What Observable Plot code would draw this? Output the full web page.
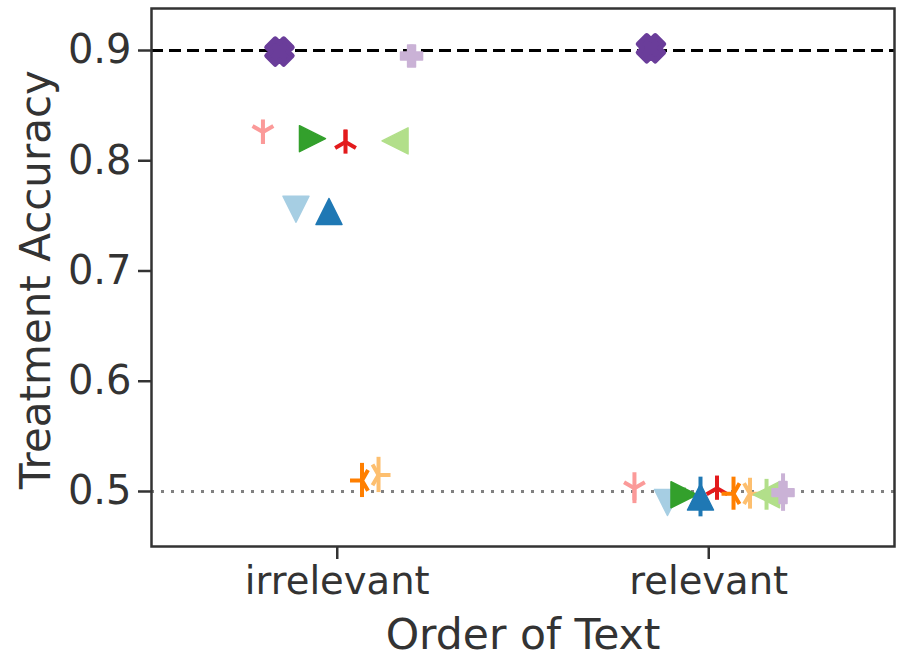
<!DOCTYPE html>
<html>
<head>
<meta charset="utf-8">
<script src="https://cdn.jsdelivr.net/npm/d3@7"></script>
<script src="https://cdn.jsdelivr.net/npm/@observablehq/plot@0.6"></script>
<style>
  html, body { margin: 0; padding: 0; background: #fff; }
  #chart svg { display: block; }
</style>
</head>
<body>
<div id="chart"></div>
<script>
// ---- data ----
const categories = ["irrelevant", "relevant"];
const seriesNames = ["Model 1","Model 2","Model 3","Model 4","Model 5","Model 6","Model 7","Model 8","Model 9","Model 10"];
const seriesColors = ["#fb9a99","#6a3d9a","#a6cee3","#33a02c","#1f78b4","#e31a1c","#ff7f00","#fdbf6f","#b2df8a","#cab2d6"];
const seriesMarkers = ["tri_down","X","v","gt","^","tri_up","tri_left","tri_right","lt","P"];
const irrelevantAcc = [0.826, 0.899, 0.756, 0.820, 0.754, 0.817, 0.510, 0.515, 0.818, 0.895];
const relevantAcc   = [0.503, 0.902, 0.490, 0.497, 0.495, 0.503, 0.498, 0.498, 0.497, 0.499];
const irrelevantErr = [0.011, 0.002, 0.002, 0.004, 0.004, 0.011, 0.0155, 0.016, 0.004, 0.010];
const relevantErr   = [0.014, 0.003, 0.003, 0.006, 0.018, 0.011, 0.015, 0.014, 0.014, 0.017];
const yTicks = [0.5, 0.6, 0.7, 0.8, 0.9];
const upperRef = 0.9;
const lowerRef = 0.5;
const dodgeWidth = 0.4;

// ---- symbols ----
function tri(dirs) {
  return { draw(ctx, size) {
    const h = Math.sqrt(size / Math.PI);
    for (const [dx, dy] of dirs) { ctx.moveTo(0, 0); ctx.lineTo(dx * h, dy * h); }
  }};
}
function poly(pts) {
  return { draw(ctx, size) {
    const h = Math.sqrt(size / Math.PI);
    pts.forEach(([px, py], i) => i ? ctx.lineTo(px * h, py * h) : ctx.moveTo(px * h, py * h));
    ctx.closePath();
  }};
}
const w = 0.36;
const plusPts = [[-w,-1],[w,-1],[w,-w],[1,-w],[1,w],[w,w],[w,1],[-w,1],[-w,w],[-1,w],[-1,-w],[-w,-w]];
const xw = 0.5;
const xPts = [[-xw,-1],[xw,-1],[xw,-xw],[1,-xw],[1,xw],[xw,xw],[xw,1],[-xw,1],[-xw,xw],[-1,xw],[-1,-xw],[-xw,-xw]];
const rot = (pts, a) => pts.map(([x, y]) => [x * Math.cos(a) - y * Math.sin(a), x * Math.sin(a) + y * Math.cos(a)]);
const symbolDefs = {
  "tri_down": {sym: tri([[0,1],[-0.866,-0.5],[0.866,-0.5]]), filled: false},
  "tri_up": {sym: tri([[0,-1],[-0.866,0.5],[0.866,0.5]]), filled: false},
  "tri_left": {sym: tri([[-1,0],[0.5,-0.866],[0.5,0.866]]), filled: false},
  "tri_right": {sym: tri([[1,0],[-0.5,-0.866],[-0.5,0.866]]), filled: false},
  "v": {sym: poly([[0,1],[-1,-1],[1,-1]]), filled: true},
  "^": {sym: poly([[0,-1],[-1,1],[1,1]]), filled: true},
  "gt": {sym: poly([[1,0],[-1,-1],[-1,1]]), filled: true},
  "lt": {sym: poly([[-1,0],[1,-1],[1,1]]), filled: true},
  "P": {sym: poly(plusPts), filled: true},
  "X": {sym: poly(rot(xPts, Math.PI / 4)), filled: true}
};

// ---- table ----
const n = seriesNames.length;
const rows = [];
categories.forEach((cat, ci) => {
  const acc = ci === 0 ? irrelevantAcc : relevantAcc;
  const err = ci === 0 ? irrelevantErr : relevantErr;
  seriesNames.forEach((s, si) => {
    rows.push({
      series: s, si, cat,
      x: ci - dodgeWidth / 2 + si * dodgeWidth / (n - 1),
      y: acc[si], lo: acc[si] - err[si], hi: acc[si] + err[si],
      color: seriesColors[si], marker: seriesMarkers[si]
    });
  });
});

const seriesMarks = [];
seriesNames.forEach((s, si) => {
  const data = rows.filter(d => d.si === si);
  const m = seriesMarkers[si];
  const def = symbolDefs[m];
  seriesMarks.push(Plot.ruleX(data, {x: "x", y1: "lo", y2: "hi", stroke: seriesColors[si], strokeWidth: 4}));
  if (def.filled) {
    const r = m === "X" ? 12 : (m === "P" ? 11 : 13);
    const sw = m === "X" ? 5 : 1.5;
    seriesMarks.push(Plot.dot(data, {x: "x", y: "y", symbol: def.sym, r, fill: seriesColors[si], stroke: seriesColors[si], strokeWidth: sw, strokeLinejoin: "round"}));
  } else {
    seriesMarks.push(Plot.dot(data, {x: "x", y: "y", symbol: def.sym, r: 12, fill: "none", stroke: seriesColors[si], strokeWidth: 4}));
  }
});

const chart = Plot.plot({
  width: 904,
  height: 659,
  marginLeft: 151,
  marginRight: 10,
  marginTop: 8,
  marginBottom: 113,
  style: {fontFamily: "DejaVu Sans, sans-serif", color: "#333", background: "#fff"},
  x: {domain: [-0.5, 1.5]},
  y: {domain: [0.4501, 0.9381]},
  marks: [
    Plot.ruleY([lowerRef], {stroke: "#808080", strokeWidth: 3, strokeDasharray: "3,7"}),
    Plot.ruleY([upperRef], {stroke: "#000", strokeWidth: 3, strokeDasharray: "12,6"}),
    ...seriesMarks,
    Plot.frame({stroke: "#333", strokeWidth: 2.5}),
    Plot.axisY({ticks: yTicks, tickFormat: d3.format(".1f"), fontSize: 40, tickSize: 13, tickPadding: 7, strokeWidth: 2.5, label: null}),
    Plot.axisX({ticks: [0, 1], tickFormat: i => categories[i], fontSize: 38.5, tickSize: 13, tickPadding: 7, strokeWidth: 2.5, label: null}),
    Plot.text(["Order of Text"], {frameAnchor: "bottom", dy: 89, fontSize: 42.5, fill: "#333", textAnchor: "middle", lineAnchor: "middle"}),
    Plot.text(["Treatment Accuracy"], {frameAnchor: "left", dx: -115, dy: 2, rotate: -90, fontSize: 42, fill: "#333", textAnchor: "middle", lineAnchor: "middle"})
  ]
});
document.getElementById("chart").appendChild(chart);
</script>
</body>
</html>
